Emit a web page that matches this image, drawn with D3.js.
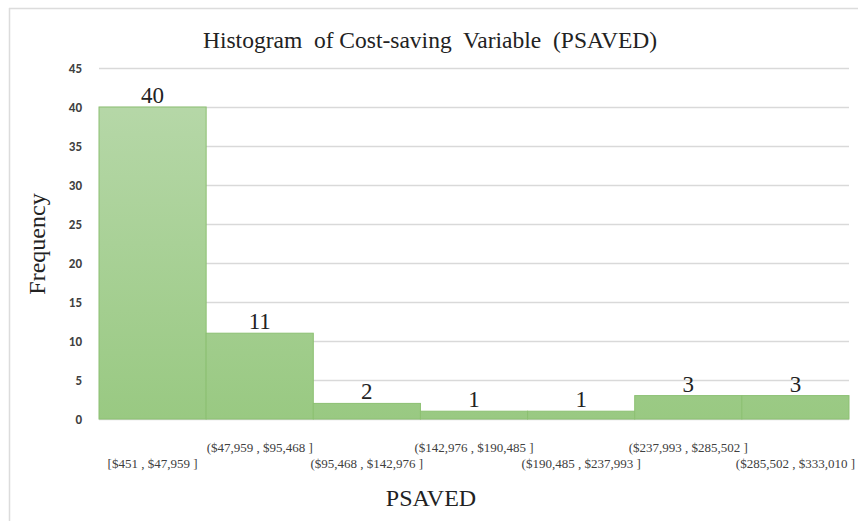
<!DOCTYPE html>
<html><head><meta charset="utf-8">
<script src="https://cdn.jsdelivr.net/npm/d3@7"></script>
<style>
html,body{margin:0;padding:0;background:#fff;}
svg{display:block;}
</style></head>
<body>
<svg id="chart" width="858" height="521"></svg>
<script>
const categories = [
  "[$451 , $47,959 ]",
  "($47,959 , $95,468 ]",
  "($95,468 , $142,976 ]",
  "($142,976 , $190,485 ]",
  "($190,485 , $237,993 ]",
  "($237,993 , $285,502 ]",
  "($285,502 , $333,010 ]"
];
const frequencies = [40, 11, 2, 1, 1, 3, 3];
const yTicks = [0, 5, 10, 15, 20, 25, 30, 35, 40, 45];
const titleText = "Histogram  of Cost-saving  Variable  (PSAVED)";
const xTitle = "PSAVED";
const yTitle = "Frequency";

const svg = d3.select("#chart");
const W = 858, H = 521;
const m = {left: 99, right: 9, top: 68, bottom: 102};
const iw = W - m.left - m.right, ih = H - m.top - m.bottom;

// frame
svg.append("line").attr("x1", 9).attr("x2", W).attr("y1", 8.5).attr("y2", 8.5)
  .attr("stroke", "#dcdcdc").attr("stroke-width", 1.5);
svg.append("line").attr("x1", 9.5).attr("x2", 9.5).attr("y1", 8).attr("y2", H)
  .attr("stroke", "#dcdcdc").attr("stroke-width", 1.5);

const x = d3.scaleBand().domain(categories).range([m.left, m.left + iw]).padding(0);
const y = d3.scaleLinear().domain([0, 45]).range([m.top + ih, m.top]);

const defs = svg.append("defs");
const grad = defs.append("linearGradient").attr("id", "g")
  .attr("gradientUnits", "userSpaceOnUse")
  .attr("x1", 0).attr("x2", 0).attr("y1", y(45)).attr("y2", y(0));
grad.append("stop").attr("offset", "0%").attr("stop-color", "#b9d9ac");
grad.append("stop").attr("offset", "100%").attr("stop-color", "#99c982");

// grid
svg.append("g").selectAll("line").data(yTicks).join("line")
  .attr("x1", m.left).attr("x2", m.left + iw)
  .attr("y1", d => y(d) + 0.5).attr("y2", d => y(d) + 0.5)
  .attr("stroke", "#d9d9d9").attr("stroke-width", 1.3);

// y axis labels
const yAxis = d3.axisLeft(y).tickValues(yTicks).tickSize(0).tickPadding(0);
const gy = svg.append("g").attr("transform", `translate(82,0)`).call(yAxis);
gy.select(".domain").remove();
gy.selectAll("text").attr("font-family", "Carlito, Calibri, 'Liberation Sans', sans-serif")
  .attr("font-size", 13).attr("fill", "#404040").attr("font-weight", "bold")
  .attr("text-anchor", "end").attr("dx", 0);

// bars
svg.append("g").selectAll("rect").data(frequencies).join("rect")
  .attr("x", (d, i) => x(categories[i]))
  .attr("y", d => y(d))
  .attr("width", x.bandwidth())
  .attr("height", d => y(0) - y(d))
  .attr("fill", "url(#g)")
  .attr("stroke", "#8cc072").attr("stroke-width", 1);

// value labels
svg.append("g").selectAll("text").data(frequencies).join("text")
  .attr("x", (d, i) => x(categories[i]) + x.bandwidth() / 2)
  .attr("y", d => y(d) - 4)
  .attr("text-anchor", "middle")
  .attr("font-family", "'Liberation Serif', 'Times New Roman', serif")
  .attr("font-size", 23).attr("fill", "#222")
  .text(d => d);

// x category labels (staggered)
const xAxis = d3.axisBottom(x).tickSize(0).tickPadding(0);
const gx = svg.append("g").attr("transform", `translate(0,${y(0)})`).call(xAxis);
gx.select(".domain").remove();
gx.selectAll("text")
  .attr("font-family", "'Liberation Serif', 'Times New Roman', serif")
  .attr("font-size", 13).attr("fill", "#404040")
  .attr("y", (d, i) => i % 2 === 0 ? 44 : 28)
  .attr("dy", "0.35em");

// titles
svg.append("text").attr("x", 430).attr("y", 48).attr("text-anchor", "middle")
  .attr("font-family", "'Liberation Serif', 'Times New Roman', serif")
  .attr("font-size", 23.5).attr("fill", "#222").style("white-space", "pre")
  .text(titleText);
svg.append("text").attr("x", 431).attr("y", 506).attr("text-anchor", "middle")
  .attr("font-family", "'Liberation Serif', 'Times New Roman', serif")
  .attr("font-size", 24).attr("fill", "#222")
  .text(xTitle);
svg.append("text").attr("transform", "translate(45,244) rotate(-90)").attr("text-anchor", "middle")
  .attr("font-family", "'Liberation Serif', 'Times New Roman', serif")
  .attr("font-size", 24).attr("fill", "#222")
  .text(yTitle);
</script>
</body></html>
